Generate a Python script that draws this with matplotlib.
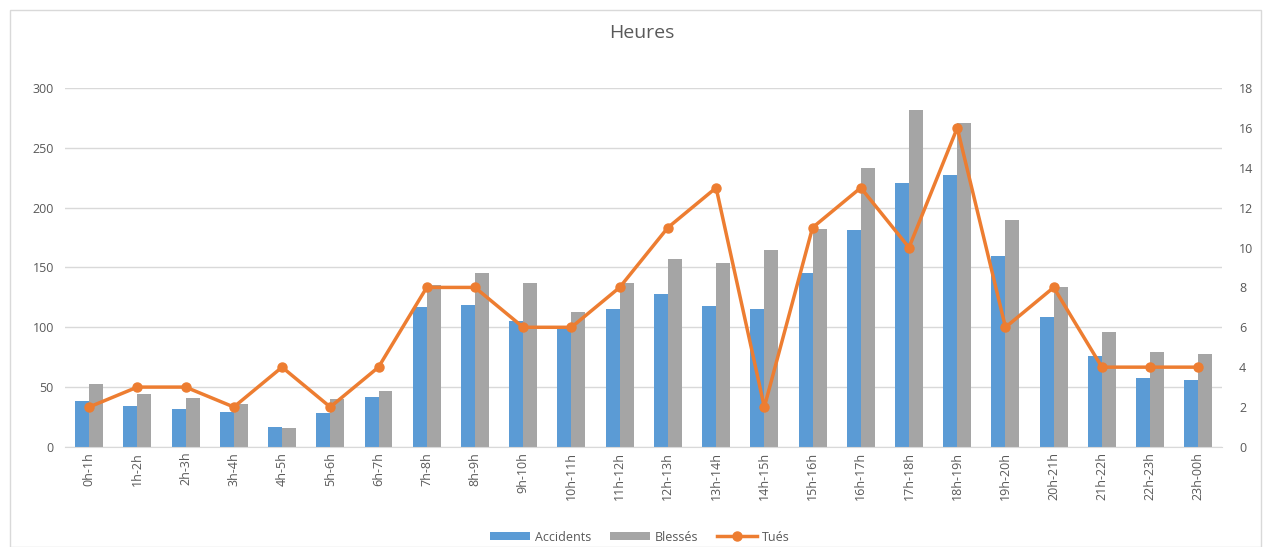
import numpy as np
import matplotlib
matplotlib.use('Agg')
import matplotlib.pyplot as plt
from matplotlib.patches import Rectangle

hours = ['0h-1h', '1h-2h', '2h-3h', '3h-4h', '4h-5h', '5h-6h', '6h-7h', '7h-8h',
         '8h-9h', '9h-10h', '10h-11h', '11h-12h', '12h-13h', '13h-14h', '14h-15h',
         '15h-16h', '16h-17h', '17h-18h', '18h-19h', '19h-20h', '20h-21h',
         '21h-22h', '22h-23h', '23h-00h']
accidents = [38, 34, 32, 29, 17, 28, 42, 117, 119, 105, 99, 115, 128, 118, 115,
             145, 181, 221, 227, 160, 109, 76, 58, 56]
blesses = [53, 44, 41, 36, 16, 40, 47, 135, 145, 137, 113, 137, 157, 154, 165,
           182, 233, 282, 271, 190, 134, 96, 79, 78]
tues = [2, 3, 3, 2, 4, 2, 4, 8, 8, 6, 6, 8, 11, 13, 2, 11, 13, 10, 16, 6, 8, 4, 4, 4]

plt.rcParams['font.family'] = ['Open Sans', 'DejaVu Sans']
txt = '#595959'

fig = plt.figure(figsize=(12.65, 5.47), dpi=100)
fig.patches.append(Rectangle((0.008, 0.0), 0.989, 0.982, transform=fig.transFigure,
                             fill=False, edgecolor='#d9d9d9', linewidth=1))
ax = fig.add_axes([0.0514, 0.183, 0.915, 0.656])
x = np.arange(len(hours))
w = 0.29
ax.bar(x - w / 2, accidents, w, color='#5B9BD5', label='Accidents', zorder=2)
ax.bar(x + w / 2, blesses, w, color='#A5A5A5', label='Blessés', zorder=2)
ax.set_ylim(0, 300)
ax.set_yticks(range(0, 301, 50))
ax.set_xlim(-0.5, len(hours) - 0.5)
ax.set_xticks(x)
ax.set_xticklabels(hours, rotation=90)
ax.grid(axis='y', color='#d9d9d9', linewidth=1, zorder=0)
for s in ['top', 'right', 'left']:
    ax.spines[s].set_visible(False)
ax.spines['bottom'].set_color('#d9d9d9')
ax.tick_params(length=0, colors=txt, labelsize=9)
ax.tick_params(axis='y', pad=8)

ax2 = ax.twinx()
ax2.plot(x, tues, color='#ED7D31', linewidth=2.5, marker='o', markersize=6.5,
         label='Tués', zorder=3)
ax2.set_ylim(0, 18)
ax2.set_yticks(range(0, 19, 2))
for s in ['top', 'right', 'left', 'bottom']:
    ax2.spines[s].set_visible(False)
ax2.tick_params(length=0, colors=txt, labelsize=9, pad=12)

fig.text(0.507, 0.94, 'Heures', ha='center', va='center', fontsize=14, color=txt)

h1, l1 = ax.get_legend_handles_labels()
h2, l2 = ax2.get_legend_handles_labels()
fig.legend(h1 + h2, l1 + l2, loc='center', bbox_to_anchor=(0.506, 0.018), ncol=3,
           frameon=False, fontsize=9, labelcolor=txt, handlelength=3.2,
           handleheight=0.6, columnspacing=1.5, handletextpad=0.4)

fig.savefig('out.png', dpi=100)
